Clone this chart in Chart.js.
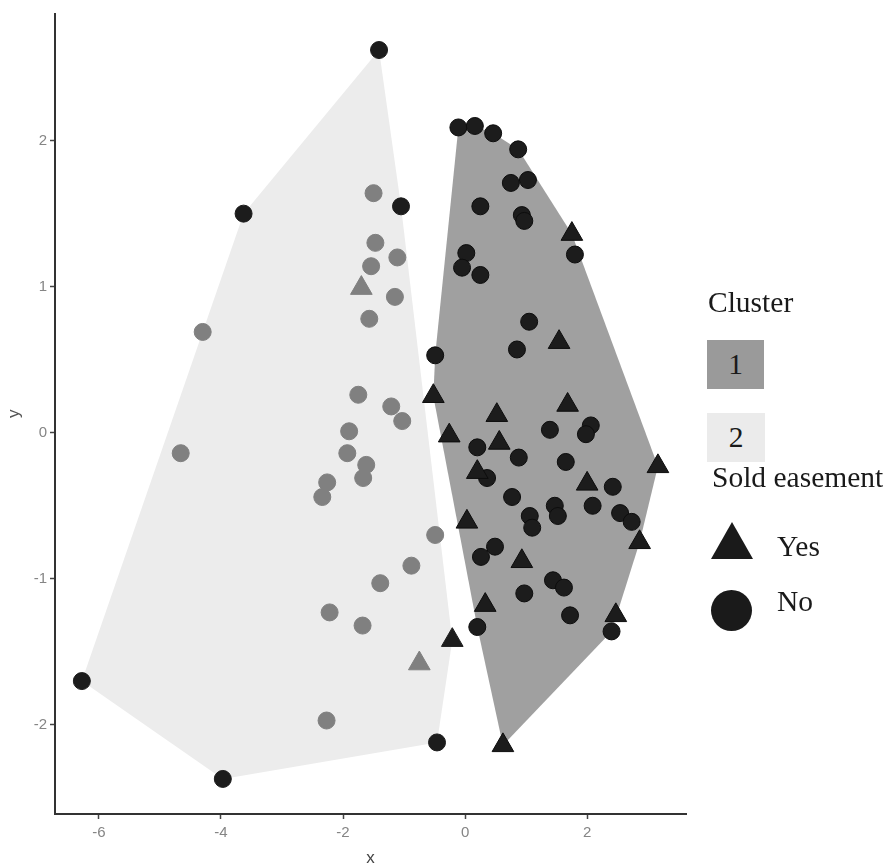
<!DOCTYPE html>
<html>
<head>
<meta charset="utf-8">
<script src="https://cdn.jsdelivr.net/npm/chart.js@4.4.1/dist/chart.umd.min.js"></script>
<style>
  html, body { margin: 0; padding: 0; background: #fff; }
  #wrap { position: relative; width: 888px; height: 865px; }
  .lg {
    position: absolute;
    font-family: "Liberation Serif", "Times New Roman", serif;
    font-size: 29.5px;
    line-height: 1;
    color: #1a1a1a;
    white-space: nowrap;
  }
  .box { display: flex; align-items: center; justify-content: center; }
</style>
</head>
<body>
<div id="wrap">
  <canvas id="chart-1"></canvas>

  <!-- legend, same layout as the ggplot one -->
  <div class="lg" style="left:708px; top:288px;">Cluster</div>
  <div class="lg box" style="left:707px; top:340px; width:57px; height:49px; background:#9a9a9a;">1</div>
  <div class="lg box" style="left:707px; top:413px; width:58px; height:49px; background:#ebebeb;">2</div>
  <div class="lg" style="left:712px; top:463px;">Sold easement</div>
  <div class="lg" style="left:711px; top:522px; width:42px; height:37px; background:#1a1a1a; clip-path:polygon(50% 0, 100% 100%, 0 100%);"></div>
  <div class="lg" style="left:777px; top:532px;">Yes</div>
  <div class="lg" style="left:711px; top:590px; width:41px; height:41px; background:#1a1a1a; border-radius:50%;"></div>
  <div class="lg" style="left:777px; top:587px;">No</div>
</div>

<script>
const xTicks = [-6, -4, -2, 0, 2];
const yTicks = [-2, -1, 0, 1, 2];

// cluster 1, sold easement = No
const c1NoX = [-0.11, 0.16, 0.46, 0.87, 0.75, 1.03, 0.25, 0.93, 0.97, 1.80,
               0.02, -0.05, 0.25, 1.05, 0.85, -0.49, 1.39, 2.06, 1.98, 0.20,
               0.88, 1.65, 0.36, 2.42, 0.77, 2.09, 1.47, 1.52, 1.06, 1.10,
               2.54, 2.73, 0.49, 0.26, 1.44, 1.62, 0.97, 1.72, 0.20, 2.40];
const c1NoY = [2.09, 2.10, 2.05, 1.94, 1.71, 1.73, 1.55, 1.49, 1.45, 1.22,
               1.23, 1.13, 1.08, 0.76, 0.57, 0.53, 0.02, 0.05, -0.01, -0.10,
               -0.17, -0.20, -0.31, -0.37, -0.44, -0.50, -0.50, -0.57, -0.57, -0.65,
               -0.55, -0.61, -0.78, -0.85, -1.01, -1.06, -1.10, -1.25, -1.33, -1.36];

// cluster 1, sold easement = Yes
const c1YesX = [1.75, 1.54, -0.52, 1.68, 0.52, -0.26, 0.56, 3.16,
                0.20, 2.00, 2.86, 0.03, 0.93, 0.33, 2.47, 0.62];
const c1YesY = [1.36, 0.62, 0.25, 0.19, 0.12, -0.02, -0.07, -0.23,
                -0.27, -0.35, -0.75, -0.61, -0.88, -1.18, -1.25, -2.14];

// cluster 2, sold easement = No
const c2NoX = [-4.66, -1.50, -1.47, -1.11, -1.54, -1.15, -1.57, -1.75, -1.21, -1.03,
               -1.90, -1.93, -1.62, -1.67, -2.26, -2.34, -0.88, -1.39, -2.22, -1.68,
               -2.27, -1.41, -3.63, -4.30, -6.28, -3.97, -0.46, -1.05, -0.49];
const c2NoY = [-0.14, 1.64, 1.30, 1.20, 1.14, 0.93, 0.78, 0.26, 0.18, 0.08,
               0.01, -0.14, -0.22, -0.31, -0.34, -0.44, -0.91, -1.03, -1.23, -1.32,
               -1.97, 2.62, 1.50, 0.69, -1.70, -2.37, -2.12, 1.55, -0.70];

// cluster 2, sold easement = Yes
const c2YesX = [-1.70, -0.75, -0.21];
const c2YesY = [0.99, -1.58, -1.42];

function pts(xs, ys) {
  return xs.map((x, i) => ({x: x, y: ys[i]}));
}

// convex hull (monotone chain)
function convexHull(points) {
  const p = points.slice().sort((a, b) => a.x - b.x || a.y - b.y);
  const cross = (o, a, b) => (a.x - o.x) * (b.y - o.y) - (a.y - o.y) * (b.x - o.x);
  const lower = [];
  for (const q of p) {
    while (lower.length >= 2 && cross(lower[lower.length - 2], lower[lower.length - 1], q) <= 0) lower.pop();
    lower.push(q);
  }
  const upper = [];
  for (let i = p.length - 1; i >= 0; i--) {
    const q = p[i];
    while (upper.length >= 2 && cross(upper[upper.length - 2], upper[upper.length - 1], q) <= 0) upper.pop();
    upper.push(q);
  }
  upper.pop();
  lower.pop();
  return lower.concat(upper);
}

const c1No = pts(c1NoX, c1NoY);
const c1Yes = pts(c1YesX, c1YesY);
const c2No = pts(c2NoX, c2NoY);
const c2Yes = pts(c2YesX, c2YesY);

const hull1 = convexHull(c1No.concat(c1Yes));
const hull2 = convexHull(c2No.concat(c2Yes));
const onHull2 = new Set(hull2);

function closed(h) {
  const d = h.map(p => ({x: p.x, y: p.y}));
  d.push({x: h[0].x, y: h[0].y});
  return d;
}

const dark = '#1c1c1c';
const grey = '#808080';
// cluster 2 points sitting on the hull come out dark in the original
const c2Color = (c) => onHull2.has(c.raw) ? dark : grey;

const tickFont = {family: '"Liberation Sans", Arial, sans-serif', size: 15};
const titleFont = {family: '"Liberation Sans", Arial, sans-serif', size: 17, lineHeight: 1};

const ctx1 = document.getElementById('chart-1').getContext('2d');
document.getElementById('chart-1').parentNode.style.height = '865px';

const chart1 = new Chart(ctx1, {
  type: 'scatter',
  data: {
    datasets: [
      {
        label: 'Cluster 1 Yes',
        data: c1Yes,
        pointStyle: 'triangle',
        pointRadius: 12.5,
        backgroundColor: dark,
        borderColor: '#0d0d0d',
        borderWidth: 1,
        order: 1
      },
      {
        label: 'Cluster 1 No',
        data: c1No,
        pointStyle: 'circle',
        pointRadius: 8.5,
        backgroundColor: dark,
        borderColor: '#0d0d0d',
        borderWidth: 1,
        order: 2
      },
      {
        label: 'Cluster 2 Yes',
        data: c2Yes,
        pointStyle: 'triangle',
        pointRadius: 12.5,
        backgroundColor: c2Color,
        borderColor: c2Color,
        borderWidth: 1,
        order: 3
      },
      {
        label: 'Cluster 2 No',
        data: c2No,
        pointStyle: 'circle',
        pointRadius: 8.5,
        backgroundColor: c2Color,
        borderColor: c2Color,
        borderWidth: 1,
        order: 4
      },
      {
        type: 'line',
        label: 'Hull 1',
        data: closed(hull1),
        fill: 'shape',
        backgroundColor: '#a0a0a0',
        borderWidth: 0,
        borderColor: 'rgba(0,0,0,0)',
        pointRadius: 0,
        tension: 0,
        order: 10
      },
      {
        type: 'line',
        label: 'Hull 2',
        data: closed(hull2),
        fill: 'shape',
        backgroundColor: '#ececec',
        borderWidth: 0,
        borderColor: 'rgba(0,0,0,0)',
        pointRadius: 0,
        tension: 0,
        order: 11
      }
    ]
  },
  options: {
    responsive: true,
    maintainAspectRatio: false,
    animation: false,
    events: [],
    layout: {padding: {left: 0, right: 202, top: 11, bottom: 0}},
    plugins: {
      legend: {display: false},
      tooltip: {enabled: false}
    },
    scales: {
      x: {
        type: 'linear',
        min: -6.72,
        max: 3.62,
        afterBuildTicks: (s) => { s.ticks = xTicks.map(v => ({value: v})); },
        afterFit: (s) => { s.height = 51; },
        grid: {drawOnChartArea: false, tickLength: 5, tickColor: '#444', tickWidth: 1.5},
        border: {color: '#333', width: 2},
        ticks: {color: '#858585', font: tickFont, padding: 5},
        title: {display: true, text: 'x', color: '#444', font: titleFont, padding: {top: 0, bottom: -2}}
      },
      y: {
        type: 'linear',
        min: -2.61,
        max: 2.87,
        afterBuildTicks: (s) => { s.ticks = yTicks.map(v => ({value: v})); },
        afterFit: (s) => { s.width = 55; },
        grid: {drawOnChartArea: false, tickLength: 5, tickColor: '#444', tickWidth: 1.5},
        border: {color: '#333', width: 2},
        ticks: {color: '#858585', font: tickFont, padding: 3},
        title: {display: true, text: 'y', color: '#555', font: titleFont, padding: {top: 6, bottom: 0}}
      }
    }
  }
});
</script>
</body>
</html>
